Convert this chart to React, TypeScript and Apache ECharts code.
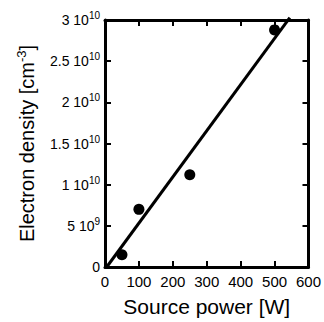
import React, { useEffect, useRef } from "react";
import * as echarts from "echarts";

const powerW = [50, 100, 250, 500];
const densityCm3 = [1.5e9, 7.0e9, 1.12e10, 2.88e10];
const fitLinePower = [5, 545];
const fitLineDensity = [0, 3.03e10];

const yTickMantissa = ["0", "5", "1", "1.5", "2", "2.5", "3"];
const yTickExponent = ["", "9", "10", "10", "10", "10", "10"];
const xTickLabels = ["0", "100", "200", "300", "400", "500", "600"];

const FONT = "Liberation Sans, Arial, Helvetica, sans-serif";

export default function App() {
  const ref = useRef<HTMLDivElement>(null);
  useEffect(() => {
    if (!ref.current) return;
    const chart = echarts.init(ref.current, undefined, { renderer: "svg" });
    const axisLine = { show: true, onZero: false, lineStyle: { color: "#000", width: 3 } };
    const axisTick = { show: true, inside: true, length: 6, lineStyle: { color: "#000", width: 2 } };
    chart.setOption({
      animation: false,
      backgroundColor: "#fff",
      textStyle: { fontFamily: FONT },
      grid: { left: 105, right: 11, top: 20, bottom: 47, containLabel: false },
      xAxis: [
        {
          type: "value",
          min: 0,
          max: 600,
          interval: 100,
          position: "bottom",
          axisLine,
          axisTick,
          splitLine: { show: false },
          axisLabel: {
            color: "#000",
            fontSize: 15,
            fontFamily: FONT,
            margin: 7,
            formatter: (v: number) => xTickLabels[Math.round(v / 100)] ?? "",
          },
          name: "Source power [W]",
          nameLocation: "middle",
          nameGap: 29,
          nameTextStyle: { color: "#000", fontSize: 21, fontFamily: FONT },
        },
        {
          type: "value",
          min: 0,
          max: 600,
          interval: 100,
          position: "top",
          axisLine,
          axisTick,
          splitLine: { show: false },
          axisLabel: { show: false },
        },
      ],
      yAxis: [
        {
          type: "value",
          min: 0,
          max: 3e10,
          interval: 5e9,
          position: "left",
          axisLine,
          axisTick,
          splitLine: { show: false },
          axisLabel: {
            color: "#000",
            fontSize: 14,
            fontFamily: FONT,
            margin: 5,
            formatter: (v: number) => {
              const i = Math.round(v / 5e9);
              const m = yTickMantissa[i] ?? "";
              const e = yTickExponent[i] ?? "";
              if (!e) return `{b|${m}}`;
              return `{b|${m} 10}{s|${e}}`;
            },
            rich: {
              b: { fontSize: 14, color: "#000", fontFamily: FONT },
              s: { fontSize: 10, color: "#000", fontFamily: FONT, padding: [0, 0, 9, 0] },
            },
          },
          name: "{a|Electron density [cm}{s|-3}{a|]}",
          nameLocation: "middle",
          nameGap: 66,
          nameTextStyle: {
            rich: {
              a: { fontSize: 20, color: "#000", fontFamily: FONT },
              s: { fontSize: 13, color: "#000", fontFamily: FONT, padding: [0, 0, 11, 0] },
            },
          },
        },
        {
          type: "value",
          min: 0,
          max: 3e10,
          interval: 5e9,
          position: "right",
          axisLine,
          axisTick,
          splitLine: { show: false },
          axisLabel: { show: false },
        },
      ],
      series: [
        {
          type: "line",
          data: fitLinePower.map((x, i) => [x, fitLineDensity[i]]),
          showSymbol: false,
          symbol: "none",
          clip: false,
          lineStyle: { color: "#000", width: 3 },
          z: 3,
        },
        {
          type: "scatter",
          data: powerW.map((x, i) => [x, densityCm3[i]]),
          symbol: "circle",
          symbolSize: 11,
          itemStyle: { color: "#000", opacity: 1 },
          z: 4,
        },
      ],
    });
    return () => chart.dispose();
  }, []);
  return <div ref={ref} style={{ width: 324, height: 322, position: "absolute", left: 0, top: 0 }} />;
}
